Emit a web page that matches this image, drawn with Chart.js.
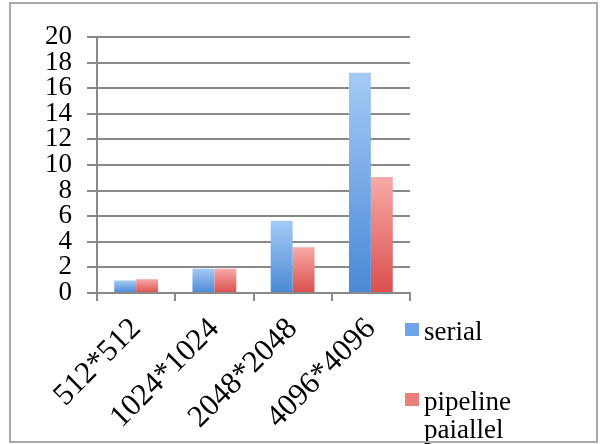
<!DOCTYPE html>
<html>
<head>
<meta charset="utf-8">
<script src="https://cdn.jsdelivr.net/npm/chart.js@4/dist/chart.umd.min.js"></script>
<style>
  body { margin: 0; background: #fff; }
  #wrap { position: relative; width: 604px; height: 444px; }
  #frame { position: absolute; left: 9px; top: 2px; width: 585px; height: 437px; border: 2px solid #a9a9a9; pointer-events: none; }
</style>
</head>
<body>
<div id="wrap">
  <canvas id="grafico" width="604" height="444"></canvas>
  <div id="frame"></div>
</div>
<script>
// dados
const categorias = ['512*512', '1024*1024', '2048*2048', '4096*4096'];
const serial = [0.98, 1.9, 5.65, 17.2];
const pipeline = [1.08, 1.9, 3.57, 9.06];
const nomesSeries = ['serial', 'pipeline paiallel'];
const ticksY = [0, 2, 4, 6, 8, 10, 12, 14, 16, 18, 20];

const cinza = '#898989';
const fonte = 'Liberation Serif';

// gradiente vertical em cada barra (claro em cima, escuro embaixo)
function gradienteBarra(c, topo, base) {
    const chart = c.chart;
    if (!chart.chartArea || c.type !== 'data') return base;
    const y = chart.scales.y;
    const y0 = y.getPixelForValue(0);
    const y1 = y.getPixelForValue(c.raw);
    if (!isFinite(y0) || !isFinite(y1) || y0 === y1) return base;
    const g = chart.ctx.createLinearGradient(0, y1, 0, y0);
    g.addColorStop(0, topo);
    g.addColorStop(1, base);
    return g;
}

const coresLegenda = ['#6fa5e6', '#ea7f7c'];

// legenda desenhada à direita, com quebra de linha
const legendaDireita = {
    id: 'legendaDireita',
    afterDraw(chart) {
        const ctx = chart.ctx;
        const posicoes = [323, 393];
        ctx.save();
        ctx.font = '27px "' + fonte + '"';
        ctx.textBaseline = 'alphabetic';
        chart.data.datasets.forEach((ds, i) => {
            const y = posicoes[i];
            ctx.fillStyle = coresLegenda[i];
            ctx.fillRect(405, y, 14, 13);
            ctx.fillStyle = '#000';
            const palavras = ds.label.split(' ');
            palavras.forEach((p, j) => {
                ctx.fillText(p, 424, y + 17 + j * 28);
            });
        });
        ctx.restore();
    }
};

new Chart(document.getElementById('grafico'), {
    type: 'bar',
    data: {
        labels: categorias,
        datasets: [{
            label: nomesSeries[0],
            data: serial,
            backgroundColor: c => gradienteBarra(c, '#a5caf6', '#4a89d6'),
            borderWidth: 0
        }, {
            label: nomesSeries[1],
            data: pipeline,
            backgroundColor: c => gradienteBarra(c, '#f8aaa7', '#da4f4c'),
            borderWidth: 0
        }]
    },
    options: {
        responsive: false,
        animation: false,
        layout: {
            padding: { left: 0, right: 194, top: 37, bottom: 0 }
        },
        datasets: {
            bar: { categoryPercentage: 0.56, barPercentage: 1 }
        },
        scales: {
            x: {
                grid: {
                    offset: true,
                    drawOnChartArea: false,
                    drawTicks: true,
                    tickLength: 8,
                    color: cinza,
                    lineWidth: 2
                },
                border: { color: cinza, width: 2 },
                ticks: {
                    autoSkip: false,
                    minRotation: 45,
                    maxRotation: 45,
                    padding: 10,
                    color: '#000',
                    font: { family: fonte, size: 31 }
                },
                afterFit: s => { s.height = 151; }
            },
            y: {
                min: 0,
                max: 20,
                afterBuildTicks: s => { s.ticks = ticksY.map(v => ({ value: v })); },
                grid: {
                    color: cinza,
                    lineWidth: 2,
                    tickLength: 10
                },
                border: { color: cinza, width: 2 },
                ticks: {
                    autoSkip: false,
                    padding: 15,
                    color: '#000',
                    font: { family: fonte, size: 27 }
                },
                afterFit: s => { s.width = 97; }
            }
        },
        plugins: {
            legend: { display: false },
            tooltip: { enabled: false }
        }
    },
    plugins: [legendaDireita]
});
</script>
</body>
</html>
